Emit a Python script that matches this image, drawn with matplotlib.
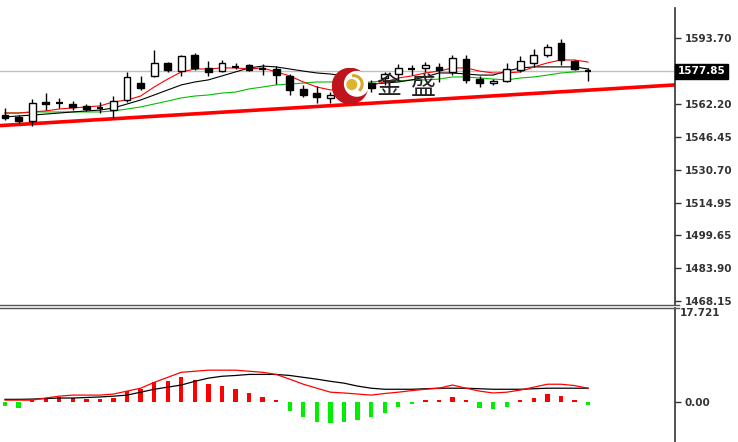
import matplotlib
matplotlib.use("Agg")
import matplotlib.pyplot as plt
from matplotlib.patches import Circle, Arc
import numpy as np

plt.rcParams['font.family'] = ['DejaVu Sans', 'Noto Sans CJK SC']

# ---------------- data ----------------
opens = [1556.9, 1556.0, 1554.1, 1563.2, 1562.7, 1562.2, 1561.2, 1560.5, 1559.3, 1564.1,
         1572.2, 1575.6, 1581.8, 1577.9, 1585.6, 1579.4, 1577.9, 1580.1, 1580.8, 1578.9,
         1578.9, 1575.6, 1569.4, 1567.4, 1565.1, 1566.9, 1568.9, 1572.2, 1574.6, 1576.5,
         1579.1, 1579.4, 1579.9, 1577.5, 1583.7, 1574.1, 1572.2, 1573.2, 1578.4, 1581.8,
         1585.6, 1591.3, 1582.7, 1578.4]
highs = [1560.3, 1556.9, 1564.6, 1567.4, 1565.1, 1563.6, 1562.2, 1563.2, 1566.0, 1577.5,
         1575.6, 1588.0, 1582.2, 1585.6, 1586.5, 1582.7, 1583.2, 1581.8, 1581.3, 1581.3,
         1580.3, 1576.5, 1571.3, 1570.8, 1567.9, 1571.3, 1572.7, 1573.7, 1577.5, 1581.3,
         1580.8, 1582.2, 1581.8, 1585.6, 1585.6, 1575.6, 1574.1, 1581.8, 1585.1, 1588.5,
         1590.8, 1593.2, 1583.2, 1579.4]
lows = [1554.6, 1553.1, 1551.7, 1559.3, 1560.3, 1559.3, 1558.9, 1557.9, 1555.5, 1563.2,
        1568.9, 1575.1, 1577.5, 1575.6, 1578.4, 1575.6, 1577.5, 1578.9, 1577.9, 1576.0,
        1571.7, 1566.5, 1565.5, 1562.7, 1562.7, 1566.0, 1566.5, 1567.9, 1571.3, 1573.7,
        1576.0, 1577.5, 1572.7, 1576.0, 1572.2, 1570.3, 1571.3, 1572.7, 1577.5, 1579.9,
        1584.6, 1580.8, 1578.4, 1573.2]
closes = [1555.5, 1554.1, 1562.7, 1562.2, 1562.4, 1560.8, 1559.8, 1560.3, 1563.6, 1575.1,
          1569.8, 1581.8, 1578.4, 1585.1, 1579.4, 1577.5, 1581.8, 1579.9, 1578.4, 1578.7,
          1576.0, 1568.9, 1566.5, 1565.5, 1566.5, 1569.8, 1571.3, 1569.8, 1576.5, 1579.4,
          1578.9, 1580.8, 1578.4, 1584.2, 1573.7, 1572.2, 1573.2, 1578.9, 1582.7, 1585.6,
          1589.4, 1583.2, 1578.9, 1577.85]

ma_red = [1557.9, 1557.9, 1558.4, 1558.9, 1559.8, 1560.3, 1560.8, 1561.3, 1563.2, 1564.1,
          1566.0, 1570.3, 1574.1, 1577.5, 1578.9, 1578.9, 1579.4, 1579.4, 1578.9, 1579.4,
          1577.5, 1575.6, 1572.7, 1570.3, 1568.9, 1569.4, 1570.3, 1571.3, 1572.7, 1574.6,
          1575.6, 1577.0, 1577.9, 1579.4, 1579.4, 1577.9, 1577.0, 1577.0, 1577.5, 1579.9,
          1581.8, 1583.2, 1583.2, 1582.2]
ma_black = [1556.0, 1556.5, 1556.9, 1557.4, 1557.9, 1558.4, 1558.9, 1559.3, 1560.3, 1562.2,
            1564.1, 1566.5, 1568.9, 1571.3, 1572.7, 1573.7, 1575.6, 1577.5, 1579.4, 1580.3,
            1579.9, 1578.9, 1577.9, 1577.0, 1576.5, 1575.6, 1573.7, 1571.7, 1572.2, 1572.7,
            1573.7, 1575.1, 1577.0, 1577.0, 1576.5, 1576.0, 1576.0, 1577.9, 1579.4, 1579.9,
            1579.9, 1579.9, 1579.9, 1578.9]
ma_green = [1557.9, 1557.9, 1558.4, 1558.4, 1558.4, 1558.4, 1558.4, 1558.4, 1558.9, 1559.8,
            1560.8, 1562.2, 1563.6, 1565.1, 1566.0, 1566.5, 1567.4, 1567.9, 1569.4, 1570.3,
            1571.3, 1571.7, 1572.2, 1572.7, 1572.7, 1572.7, 1572.7, 1572.7, 1573.2, 1573.2,
            1573.7, 1573.7, 1574.1, 1575.1, 1575.1, 1574.6, 1574.1, 1573.7, 1574.6, 1575.1,
            1576.0, 1577.0, 1577.5, 1577.9]

trend_x = [-0.37, 49.41]
trend_y = [1551.9, 1571.3]

last_price = 1577.85
price_ticks = [1593.70, 1562.20, 1546.45, 1530.70, 1514.95, 1499.65, 1483.90, 1468.15]

macd_hist = [-0.75, -1.1, 0.3, 0.5, 1.0, 0.8, 0.5, 0.5, 0.8, 2.05,
             2.36, 3.7, 4.0, 4.8, 4.2, 3.3, 3.1, 2.4, 1.7, 0.9,
             0.3, -1.7, -2.9, -3.8, -4.0, -3.7, -3.3, -2.9, -2.0, -0.9,
             -0.3, 0.4, 0.3, 0.9, 0.3, -1.1, -1.4, -0.9, 0.3, 0.75,
             1.6, 1.05, 0.3, -0.55]
macd_main = [0.35, 0.35, 0.35, 0.75, 1.1, 1.3, 1.3, 1.3, 1.5, 2.05,
             2.6, 3.7, 4.65, 5.6, 5.8, 6.0, 6.0, 6.0, 5.8, 5.6,
             5.2, 4.3, 3.35, 2.6, 1.85, 1.7, 1.5, 1.3, 1.6, 1.85,
             2.15, 2.4, 2.6, 3.2, 2.6, 2.05, 1.7, 1.85, 2.25, 2.8,
             3.35, 3.35, 3.1, 2.6]
macd_signal = [0.5, 0.5, 0.55, 0.65, 0.75, 0.75, 0.85, 0.95, 1.1, 1.3,
               1.85, 2.4, 2.8, 3.2, 3.9, 4.5, 4.85, 5.0, 5.2, 5.2,
               5.2, 5.0, 4.65, 4.3, 3.9, 3.55, 3.0, 2.6, 2.4, 2.4,
               2.4, 2.5, 2.6, 2.6, 2.6, 2.5, 2.4, 2.4, 2.4, 2.5,
               2.6, 2.6, 2.6, 2.6]
macd_top = 17.721

# ---------------- figure ----------------
W, H = 738, 442
fig = plt.figure(figsize=(W / 100, H / 100), dpi=100)
fig.patch.set_facecolor('white')

def fx(px):
    return px / W

def fy(py):
    return 1 - py / H

ax = fig.add_axes([0, fy(305), fx(675), (305 - 8) / H])
axm = fig.add_axes([0, 0, fx(675), (442 - 308) / H])

x = np.arange(len(opens))
xlim = (-0.37, 49.41)

ax.set_xlim(*xlim)
ax.set_ylim(1466.3, 1608.0)

# current price gray line
ax.axhline(last_price, color='#c0c0c0', lw=1, zorder=1)

# trend line
ax.plot(trend_x, trend_y, color='#ff0000', lw=2.6, zorder=2, solid_capstyle='butt')

# moving averages
ax.plot(x, ma_green, color='#00c000', lw=0.8, zorder=3)
ax.plot(x, ma_black, color='black', lw=0.8, zorder=3)
ax.plot(x, ma_red, color='#ff0000', lw=0.8, zorder=3)

# candles
bw = 0.5
for i in range(len(opens)):
    o, h, l, c = opens[i], highs[i], lows[i], closes[i]
    ax.vlines(i, l, h, color='black', lw=1.0, zorder=4)
    lo, hi = min(o, c), max(o, c)
    if hi - lo < 0.6:
        ax.hlines((o + c) / 2, i - bw / 2, i + bw / 2, color='black', lw=1.6, zorder=5)
    else:
        fc = 'white' if c >= o else 'black'
        ax.bar(i, hi - lo, bottom=lo, width=bw, facecolor=fc, edgecolor='black',
               linewidth=1.0, zorder=5)

# logo
logo_ax = fig.add_axes([fx(332), fy(104), fx(36), 36 / H])
logo_ax.set_xlim(-1, 1)
logo_ax.set_ylim(-1, 1)
logo_ax.set_aspect('equal')
logo_ax.axis('off')
logo_ax.add_patch(Circle((0, 0), 0.98, color='#c0141c', zorder=1))
logo_ax.add_patch(Circle((0.38, 0.12), 0.68, color='white', zorder=2))
logo_ax.add_patch(Arc((0.2, 0.1), 0.95, 0.95, theta1=-50, theta2=100, color='#d4a82a', lw=2.2, zorder=3))
logo_ax.add_patch(Circle((0.1, 0.08), 0.27, color='#d9b531', zorder=4))

fig.text(fx(389), fy(87), '金', family=['Noto Sans CJK SC'], fontsize=18,
         color='#222222', ha='center', va='center')
fig.text(fx(423), fy(87), '盛', family=['Noto Sans CJK SC'], fontsize=18,
         color='#222222', ha='center', va='center')

# axis styling (main)
for s in ['top', 'left', 'bottom']:
    ax.spines[s].set_visible(False)
ax.spines['right'].set_color('#333333')
ax.spines['right'].set_linewidth(1.2)
ax.set_xticks([])
ax.yaxis.tick_right()
ax.set_yticks(price_ticks)
ax.set_yticklabels([f'{v:.2f}' for v in price_ticks])
ax.tick_params(axis='y', right=True, left=False, length=4, width=1, color='#333333',
               labelsize=7.5, labelcolor='#333333', pad=3)
for lbl in ax.get_yticklabels():
    lbl.set_fontweight('bold')

# current price tag
ax.text(1.0 + fx(3) / fx(675), last_price, f'{last_price:.2f}', transform=ax.get_yaxis_transform(),
        ha='left', va='center', fontsize=7.5, fontweight='bold', color='white',
        bbox=dict(boxstyle='square,pad=0.25', facecolor='black', edgecolor='black'),
        clip_on=False, zorder=10)

# ---------------- MACD panel ----------------
axm.set_xlim(*xlim)
axm.set_ylim(-(442 - 402) / (94 / macd_top), macd_top)
hcol = ['#ff0000' if v >= 0 else '#00ee00' for v in macd_hist]
axm.bar(x, macd_hist, width=0.32, color=hcol, zorder=2)
axm.plot(x, macd_signal, color='black', lw=0.9, zorder=3)
axm.plot(x, macd_main, color='#ff0000', lw=0.9, zorder=3)
for s in ['top', 'left', 'bottom']:
    axm.spines[s].set_visible(False)
axm.spines['right'].set_color('#333333')
axm.spines['right'].set_linewidth(1.2)
axm.set_xticks([])
axm.yaxis.tick_right()
axm.set_yticks([0.0])
axm.set_yticklabels(['0.00'])
axm.tick_params(axis='y', right=True, left=False, length=4, width=1, color='#333333',
                labelsize=7.5, labelcolor='#333333', pad=3)
for lbl in axm.get_yticklabels():
    lbl.set_fontweight('bold')
axm.text(1.0 + fx(5) / fx(675), macd_top, f'{macd_top:.3f}', transform=axm.get_yaxis_transform(),
         ha='left', va='top', fontsize=7.5, fontweight='bold', color='#333333', clip_on=False)

# separator double line between panels
fig.add_artist(plt.Line2D([0, fx(679)], [fy(304.5), fy(304.5)], color='#555555', lw=1.0))
fig.add_artist(plt.Line2D([0, fx(679)], [fy(307.5), fy(307.5)], color='#555555', lw=1.0))

fig.savefig('out.png', dpi=100, facecolor='white')
